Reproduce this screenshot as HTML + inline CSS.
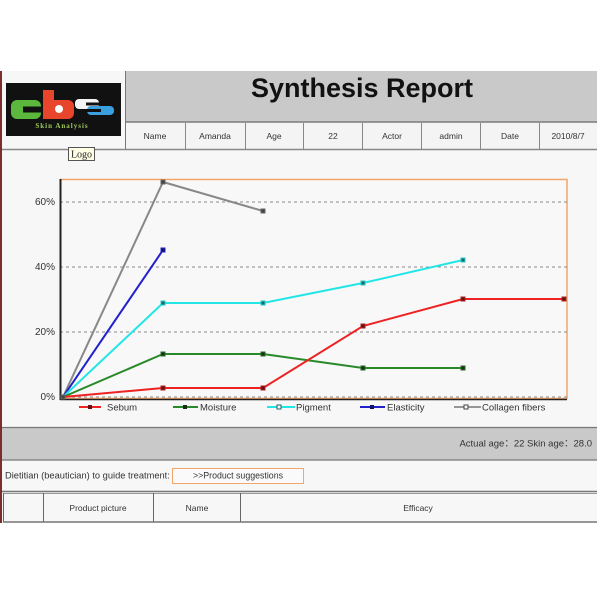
<!DOCTYPE html>
<html><head><meta charset="utf-8"><style>
html,body{margin:0;padding:0;background:#fff;}
svg{display:block;font-family:"Liberation Sans",Arial,sans-serif;}
</style></head><body>
<svg width="600" height="600" viewBox="0 0 600 600" xmlns="http://www.w3.org/2000/svg">
<rect x="0" y="0" width="600" height="600" fill="#fff"/>
<rect x="0" y="71" width="597" height="452" fill="#f7f7f7"/>
<!-- title area -->
<rect x="126" y="71" width="471" height="51" fill="#c9c9c9"/>
<rect x="126" y="123" width="471" height="26" fill="#f4f4f4"/>
<line x1="126" y1="122" x2="597" y2="122" stroke="#7a7a7a" stroke-width="1.5"/>
<line x1="125.5" y1="71" x2="125.5" y2="149" stroke="#777" stroke-width="1"/>
<g stroke="#888" stroke-width="1">
<line x1="185.5" y1="123" x2="185.5" y2="149"/>
<line x1="245.5" y1="123" x2="245.5" y2="149"/>
<line x1="303.5" y1="123" x2="303.5" y2="149"/>
<line x1="362.5" y1="123" x2="362.5" y2="149"/>
<line x1="421.5" y1="123" x2="421.5" y2="149"/>
<line x1="480.5" y1="123" x2="480.5" y2="149"/>
<line x1="539.5" y1="123" x2="539.5" y2="149"/>
</g>
<line x1="0" y1="149.5" x2="597" y2="149.5" stroke="#888" stroke-width="1.5"/>
<text x="362" y="97" font-size="27" font-weight="bold" text-anchor="middle" fill="#111">Synthesis Report</text>
<g font-size="8.5" fill="#333" text-anchor="middle">
<text x="155" y="139">Name</text>
<text x="215" y="139">Amanda</text>
<text x="274" y="139">Age</text>
<text x="333" y="139">22</text>
<text x="392" y="139">Actor</text>
<text x="451" y="139">admin</text>
<text x="510" y="139">Date</text>
<text x="568" y="139">2010/8/7</text>
</g>
<!-- logo -->
<rect x="6" y="83" width="115" height="53" fill="#111"/>
<rect x="11" y="100" width="30" height="19" rx="6" fill="#5cb83c"/>
<rect x="23" y="106.5" width="18" height="6" fill="#111"/>
<rect x="43" y="90" width="11" height="29" fill="#e8452c"/>
<rect x="43" y="100" width="31" height="19" rx="6" fill="#e8452c"/>
<circle cx="59" cy="109" r="4" fill="#fff"/>
<rect x="75" y="99" width="24" height="10" rx="4" fill="#f4f4f4"/>
<rect x="86" y="102.5" width="13" height="3" fill="#111"/>
<rect x="87" y="106" width="27" height="9" rx="4" fill="#3aa0e0"/>
<rect x="87" y="109" width="14" height="3" fill="#111"/>
<text x="62" y="128" font-size="7" font-weight="bold" font-family="Liberation Serif,serif" text-anchor="middle" fill="#9ec85a" letter-spacing="1">Skin Analysis</text>
<rect x="68.5" y="147.5" width="26" height="13" fill="#ffffe6" stroke="#555" stroke-width="1"/>
<text x="81.5" y="157.5" font-size="10" font-family="Liberation Serif,serif" text-anchor="middle" fill="#222">Logo</text>
<!-- chart -->
<rect x="60.5" y="179.5" width="506.5" height="219" fill="#f8f8f8" stroke="#f3a56a" stroke-width="1.5"/>
<g stroke="#8a8a8a" stroke-width="1" stroke-dasharray="3,3">
<line x1="60" y1="202" x2="567" y2="202"/>
<line x1="60" y1="267" x2="567" y2="267"/>
<line x1="60" y1="332" x2="567" y2="332"/>
<line x1="60" y1="397" x2="567" y2="397"/>
</g>
<line x1="60.5" y1="179" x2="60.5" y2="400" stroke="#222" stroke-width="2"/>
<line x1="60" y1="399.5" x2="567" y2="399.5" stroke="#222" stroke-width="1.5"/>
<g font-size="10" fill="#333" text-anchor="end">
<text x="55" y="205">60%</text>
<text x="55" y="270">40%</text>
<text x="55" y="335">20%</text>
<text x="55" y="400">0%</text>
</g>
<!-- series -->
<polyline points="63,397 163,182 263,211" fill="none" stroke="#888" stroke-width="2"/>
<polyline points="63,397 163,250" fill="none" stroke="#2222cc" stroke-width="2"/>
<polyline points="63,397 163,303 263,303 363,283 463,260" fill="none" stroke="#22e6e6" stroke-width="2"/>
<polyline points="63,397 163,354 263,354 363,368 463,368" fill="none" stroke="#2a8a2a" stroke-width="2"/>
<polyline points="63,397 163,388 263,388 363,326 463,299 564,299" fill="none" stroke="#ee2222" stroke-width="2"/>
<g stroke-width="1">
<g fill="#444" stroke="#666"><rect x="161" y="180" width="4" height="4"/><rect x="261" y="209" width="4" height="4"/></g>
<g fill="#111166" stroke="#2222cc"><rect x="161" y="248" width="4" height="4"/></g>
<g fill="#226666" stroke="#22cccc"><rect x="161" y="301" width="4" height="4"/><rect x="261" y="301" width="4" height="4"/><rect x="361" y="281" width="4" height="4"/><rect x="461" y="258" width="4" height="4"/></g>
<g fill="#143314" stroke="#2a6a2a"><rect x="161" y="352" width="4" height="4"/><rect x="261" y="352" width="4" height="4"/><rect x="361" y="366" width="4" height="4"/><rect x="461" y="366" width="4" height="4"/></g>
<g fill="#661111" stroke="#aa2222"><rect x="161" y="386" width="4" height="4"/><rect x="261" y="386" width="4" height="4"/><rect x="361" y="324" width="4" height="4"/><rect x="461" y="297" width="4" height="4"/><rect x="562" y="297" width="4" height="4"/></g>
<rect x="61" y="395" width="4" height="4" fill="#444" stroke="#666"/>
</g>
<!-- legend -->
<g font-size="9.5" fill="#333">
<line x1="79" y1="407" x2="101" y2="407" stroke="#ee2222" stroke-width="2"/><rect x="88" y="405" width="4" height="4" fill="#661111"/>
<text x="107" y="410.5">Sebum</text>
<line x1="173" y1="407" x2="198" y2="407" stroke="#2a8a2a" stroke-width="2"/><rect x="183" y="405" width="4" height="4" fill="#143314"/>
<text x="200" y="410.5">Moisture</text>
<line x1="267" y1="407" x2="295" y2="407" stroke="#22e6e6" stroke-width="2"/><rect x="277" y="405" width="4" height="4" fill="#f8f8f8" stroke="#226666"/>
<text x="296" y="410.5">Pigment</text>
<line x1="360" y1="407" x2="385" y2="407" stroke="#2222cc" stroke-width="2"/><rect x="370" y="405" width="4" height="4" fill="#111166"/>
<text x="387" y="410.5">Elasticity</text>
<line x1="454" y1="407" x2="481" y2="407" stroke="#777" stroke-width="1.5"/><rect x="464" y="405" width="4" height="4" fill="#f8f8f8" stroke="#444"/>
<text x="482" y="410.5">Collagen fibers</text>
</g>
<!-- gray band -->
<rect x="0" y="427" width="597" height="33" fill="#c9c9c9"/>
<line x1="0" y1="427.5" x2="597" y2="427.5" stroke="#777" stroke-width="1.2"/>
<line x1="0" y1="460" x2="597" y2="460" stroke="#777" stroke-width="1.2"/>
<text x="592" y="446.5" font-size="9.5" fill="#333" text-anchor="end">Actual age：22  Skin age：28.0</text>
<!-- dietitian row -->
<text x="5" y="478.5" font-size="9.3" fill="#333">Dietitian (beautician) to guide treatment:</text>
<rect x="172.5" y="468.5" width="131" height="15" fill="#fafafa" stroke="#f3a56a" stroke-width="1"/>
<text x="238" y="478.5" font-size="8.8" fill="#333" text-anchor="middle">&gt;&gt;Product suggestions</text>
<!-- table -->
<line x1="0" y1="491.5" x2="597" y2="491.5" stroke="#777" stroke-width="1.5"/>
<line x1="3" y1="493.5" x2="597" y2="493.5" stroke="#999" stroke-width="1"/>
<line x1="3.5" y1="493" x2="3.5" y2="522" stroke="#666"/>
<line x1="43.5" y1="493" x2="43.5" y2="522" stroke="#666"/>
<line x1="153.5" y1="493" x2="153.5" y2="522" stroke="#666"/>
<line x1="240.5" y1="493" x2="240.5" y2="522" stroke="#666"/>
<line x1="3" y1="522" x2="597" y2="522" stroke="#777" stroke-width="1.5"/>
<g font-size="8.5" fill="#333" text-anchor="middle">
<text x="98" y="511">Product picture</text>
<text x="197" y="511">Name</text>
<text x="418" y="511">Efficacy</text>
</g>
<rect x="0" y="71" width="2" height="452" fill="#7b2e2e"/>
</svg>
</body></html>
